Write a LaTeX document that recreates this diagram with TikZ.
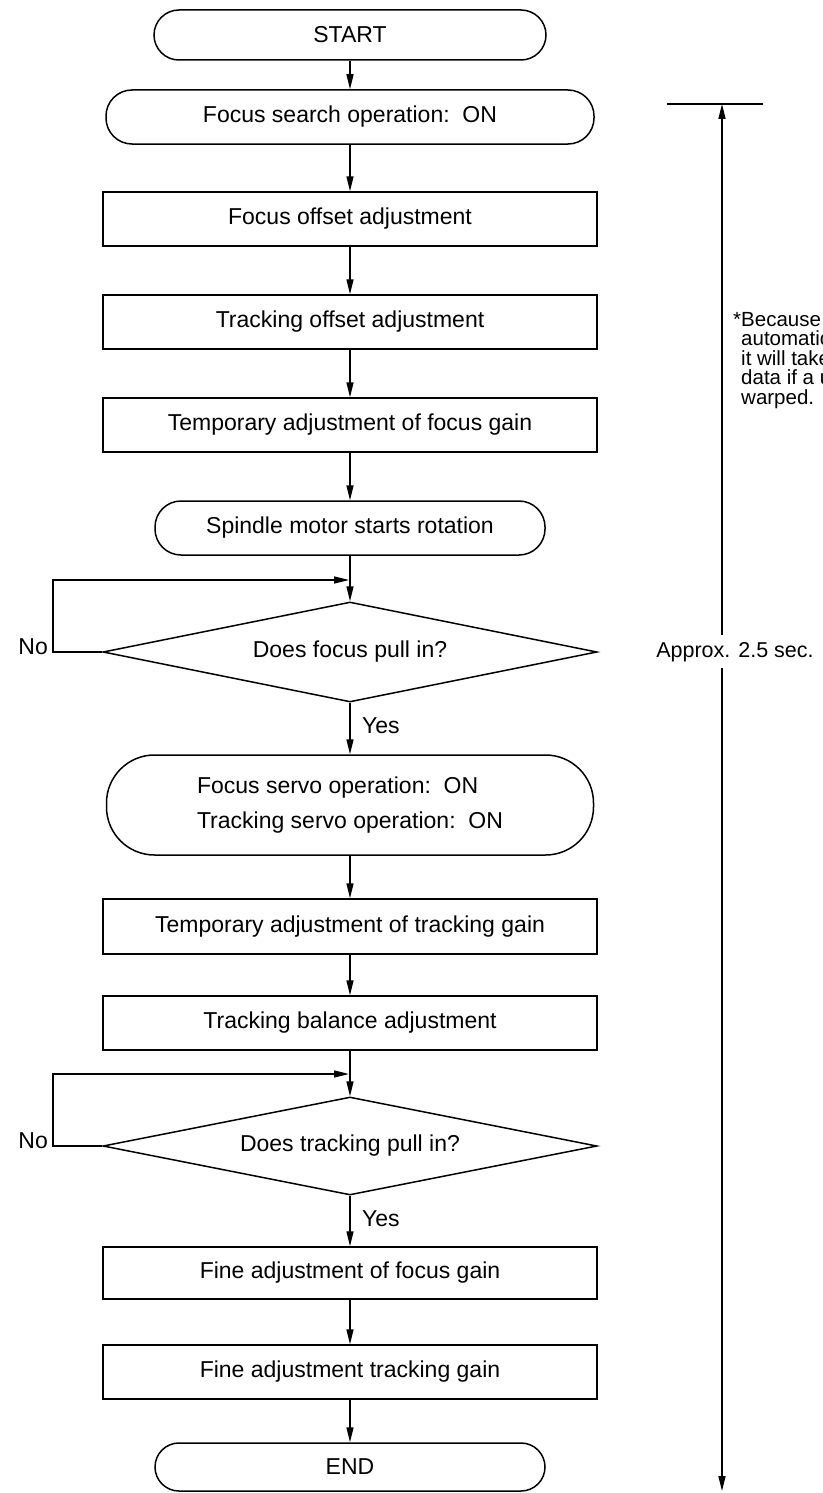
\documentclass[tikz,border=0pt]{standalone}
\usepackage{fontspec}
\setmainfont{Liberation Sans}
\usetikzlibrary{shapes.geometric,arrows.meta}
\begin{document}
\begin{tikzpicture}[x=1pt,y=-1pt,
  every node/.style={font=\fontsize{23}{35}\selectfont},
  proc/.style={draw, line width=1.5pt, minimum width=494pt, minimum height=54pt, inner sep=0pt},
  term/.style={proc, rounded corners=26pt},
  dec/.style={draw, diamond, aspect=5, line width=1.5pt, minimum width=494pt, minimum height=100pt, inner sep=0pt},
  flow/.style={line width=1.5pt, -{Triangle[length=15pt,width=7pt]}},
  line/.style={line width=1.5pt},
  lbl/.style={inner sep=0pt},
  note/.style={inner sep=0pt, font=\fontsize{20.5}{20}\selectfont}
]
\useasboundingbox (0,0) rectangle (822,1493);

\node[term, minimum width=392pt, minimum height=50pt, rounded corners=25pt] (start) at (350,35) {START};
\node[term, minimum width=488pt] (search) at (350,117) {Focus search operation:~~ON};
\node[proc] (foff) at (350,219) {Focus offset adjustment};
\node[proc] (toff) at (350,322) {Tracking offset adjustment};
\node[proc] (fgain) at (350,425) {Temporary adjustment of focus gain};
\node[term, minimum width=390pt] (spin) at (350,528) {Spindle motor starts rotation};
\node[dec] (d1) at (350,652) {Does focus pull in?};
\node[term, rounded corners=48pt, minimum width=487pt, minimum height=100pt, align=left] (servo) at (350,805) {Focus servo operation:~~ON\\Tracking servo operation:~~ON};
\node[proc, minimum height=55pt] (tgain) at (350,926.5) {Temporary adjustment of tracking gain};
\node[proc] (bal) at (350,1023) {Tracking balance adjustment};
\node[dec, minimum height=98pt] (d2) at (350,1146) {Does tracking pull in?};
\node[proc, minimum height=52pt] (ffine) at (350,1273) {Fine adjustment of focus gain};
\node[proc] (tfine) at (350,1372) {Fine adjustment tracking gain};
\node[term, minimum width=390pt, minimum height=48pt, rounded corners=24pt] (end) at (350,1467) {END};

\draw[flow] (start.south) -- (search.north);
\draw[flow] (search.south) -- (foff.north);
\draw[flow] (foff.south) -- (toff.north);
\draw[flow] (toff.south) -- (fgain.north);
\draw[flow] (fgain.south) -- (spin.north);
\draw[flow] (spin.south) -- (d1.north);
\draw[flow] (d1.south) -- (servo.north);
\draw[flow] (servo.south) -- (tgain.north);
\draw[flow] (tgain.south) -- (bal.north);
\draw[flow] (bal.south) -- (d2.north);
\draw[flow] (d2.south) -- (ffine.north);
\draw[flow] (ffine.south) -- (tfine.north);
\draw[flow] (tfine.south) -- (end.north);

\coordinate (l1) at (53,652);
\coordinate (fb1) at (349,580);
\draw[flow] (d1.west) -- (l1) |- (fb1);
\coordinate (l2) at (53,1146);
\coordinate (fb2) at (349,1074);
\draw[flow] (d2.west) -- (l2) |- (fb2);

\node[lbl, anchor=base east] (no1) at (48,654) {No};
\node[lbl, anchor=base east] (no2) at (48,1148) {No};
\node[lbl, anchor=west] (yes1) at (362,726) {Yes};
\node[lbl, anchor=west] (yes2) at (362,1219) {Yes};

\coordinate (bl) at (667,104);
\coordinate (br) at (763,104);
\draw[line] (bl) -- (br);
\coordinate (dtop) at (722,104);
\coordinate (dbot) at (722,1491);
\node[lbl, anchor=base, font=\fontsize{21.5}{26}\selectfont] (approx) at (735,657) {Approx. 2.5 sec.};
\coordinate (gapt) at (722,635);
\coordinate (gapb) at (722,668);
\draw[flow] (gapt) -- (dtop);
\draw[flow] (gapb) -- (dbot);

\begin{scope}
\clip (600,0) rectangle (822,1493);
\node[note, anchor=base west] (n1) at (733,326) {*Because};
\node[note, anchor=base west] (n2) at (741,345.5) {automatic};
\node[note, anchor=base west] (n3) at (741,365) {it will take};
\node[note, anchor=base west] (n4) at (741,384.5) {data if a u};
\node[note, anchor=base west] (n5) at (741,404) {warped.};
\end{scope}
\end{tikzpicture}
\end{document}
